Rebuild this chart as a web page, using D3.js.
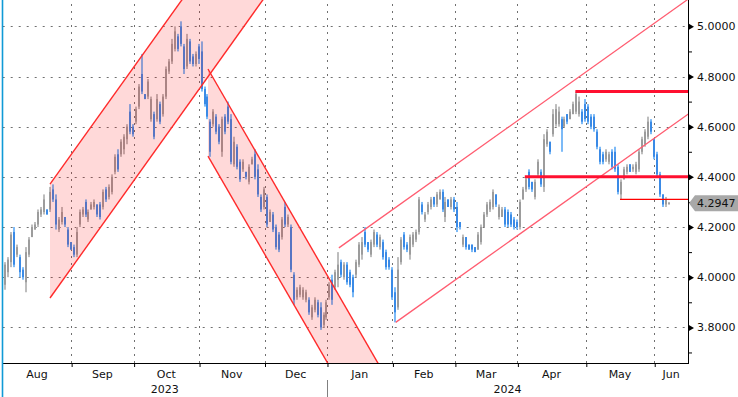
<!DOCTYPE html>
<html>
<head>
<meta charset="utf-8">
<script src="https://cdn.jsdelivr.net/npm/d3@7"></script>
<style>
  body { margin: 0; background: #fff; }
  svg { display: block; font-family: "DejaVu Sans", sans-serif; }
</style>
</head>
<body>
<svg width="738" height="397"></svg>
<script>
  'use strict';

  // daily bars, Aug 2023 - Jun 2024 (one row per month)
  const open = [
    3.97,4.02,4.06,4.18,4.09,4.08,4.03,3.98,4.09,4.16,4.19,4.21,4.25,4.26,4.27,4.27,4.35,4.31,4.19,4.22,4.24,4.19,4.14,
    4.12,4.09,4.21,4.25,4.30,4.23,4.27,4.28,4.29,4.29,4.28,4.35,4.32,4.34,4.42,4.49,4.49,4.51,4.55,4.66,4.60,
    4.62,4.68,4.81,4.73,4.72,4.63,4.65,4.63,4.69,4.65,4.72,4.82,4.86,4.91,4.96,5.00,4.92,4.84,4.94,4.88,4.85,4.92,
    4.90,4.75,4.72,4.62,4.61,4.64,4.60,4.50,4.64,4.68,4.63,4.45,4.52,4.46,4.43,4.42,4.38,4.45,4.49,4.43,4.32,4.28,
    4.32,4.22,4.25,4.20,4.17,4.16,4.28,4.21,4.20,4.01,3.92,3.93,3.92,3.91,3.91,3.84,3.87,3.90,3.88,3.81,3.84,
    3.92,3.99,3.96,3.99,4.06,4.00,4.05,4.02,4.00,4.01,4.05,4.09,4.18,4.14,4.09,4.13,4.17,4.12,4.14,4.10,4.07,4.03,
    3.94,3.88,4.06,4.17,4.13,4.09,4.13,4.15,4.18,4.29,4.23,4.26,4.28,4.32,4.29,4.31,4.34,4.24,4.31,4.28,4.31,
    4.28,4.22,4.13,4.16,4.13,4.13,4.12,4.11,4.14,4.20,4.25,4.27,4.28,4.33,4.24,4.24,4.27,4.26,4.25,4.23,4.22,
    4.20,4.31,4.35,4.42,4.38,4.32,4.41,4.42,4.36,4.53,4.54,4.57,4.61,4.61,4.63,4.60,4.65,4.63,4.65,4.66,4.65,4.66,4.69,
    4.68,4.64,4.64,4.58,4.51,4.49,4.47,4.46,4.50,4.50,4.44,4.33,4.39,4.42,4.45,4.43,4.42,4.43,4.50,4.53,4.56,4.62,4.55,
    4.49,4.41,4.33,4.29,4.292
  ];
  const high = [
    4.06,4.08,4.18,4.20,4.13,4.09,4.04,4.12,4.16,4.21,4.22,4.27,4.28,4.33,4.27,4.36,4.37,4.33,4.24,4.28,4.24,4.20,4.14,
    4.13,4.20,4.27,4.28,4.31,4.27,4.30,4.31,4.29,4.30,4.35,4.36,4.37,4.41,4.49,4.51,4.55,4.57,4.61,4.69,4.61,
    4.68,4.77,4.89,4.73,4.79,4.72,4.66,4.73,4.70,4.73,4.84,4.87,4.95,5.00,4.97,5.02,4.93,4.97,4.95,4.89,4.90,4.93,
    4.94,4.76,4.73,4.63,4.67,4.65,4.61,4.64,4.65,4.70,4.65,4.56,4.53,4.47,4.47,4.42,4.45,4.48,4.51,4.45,4.33,4.36,
    4.33,4.27,4.26,4.21,4.18,4.24,4.30,4.25,4.21,4.02,3.96,3.97,3.96,3.95,3.92,3.89,3.92,3.91,3.90,3.86,3.91,
    3.98,4.01,4.03,4.10,4.07,4.06,4.06,4.03,4.01,4.07,4.14,4.16,4.20,4.14,4.15,4.19,4.18,4.17,4.15,4.11,4.08,4.04,
    3.96,4.08,4.16,4.18,4.14,4.17,4.18,4.19,4.32,4.30,4.26,4.30,4.32,4.32,4.34,4.35,4.35,4.32,4.31,4.32,4.32,
    4.30,4.22,4.17,4.16,4.13,4.13,4.12,4.18,4.21,4.26,4.30,4.31,4.35,4.33,4.29,4.28,4.28,4.27,4.26,4.24,4.23,
    4.31,4.36,4.40,4.43,4.38,4.39,4.47,4.43,4.57,4.59,4.54,4.67,4.69,4.68,4.64,4.64,4.65,4.67,4.70,4.74,4.72,4.67,4.71,
    4.69,4.65,4.65,4.59,4.52,4.50,4.51,4.50,4.51,4.52,4.45,4.39,4.44,4.45,4.45,4.45,4.46,4.51,4.56,4.59,4.64,4.63,4.55,
    4.50,4.42,4.33,4.32,4.30
  ];
  const low = [
    3.95,4.00,4.04,4.04,4.08,4.00,3.99,3.94,4.08,4.16,4.19,4.20,4.24,4.25,4.25,4.26,4.30,4.19,4.18,4.21,4.20,4.12,4.11,
    4.08,4.08,4.20,4.24,4.24,4.22,4.27,4.27,4.24,4.23,4.27,4.30,4.31,4.33,4.41,4.42,4.48,4.49,4.53,4.57,4.56,
    4.61,4.67,4.73,4.71,4.71,4.62,4.55,4.62,4.61,4.64,4.71,4.81,4.85,4.90,4.90,4.92,4.81,4.83,4.85,4.84,4.84,4.85,
    4.74,4.68,4.63,4.48,4.60,4.57,4.53,4.48,4.57,4.61,4.45,4.44,4.43,4.38,4.42,4.39,4.37,4.45,4.39,4.32,4.26,4.27,
    4.20,4.22,4.18,4.11,4.10,4.15,4.20,4.20,4.02,3.89,3.91,3.92,3.91,3.90,3.85,3.83,3.86,3.84,3.79,3.80,3.83,
    3.91,3.89,3.95,3.96,4.00,3.99,3.97,3.96,3.92,4.00,4.04,4.07,4.12,4.10,4.08,4.12,4.12,4.11,4.07,4.03,4.03,3.91,
    3.82,3.87,4.05,4.11,4.10,4.07,4.12,4.14,4.17,4.25,4.22,4.25,4.27,4.28,4.28,4.31,4.26,4.22,4.28,4.27,4.26,
    4.18,4.19,4.12,4.11,4.11,4.10,4.10,4.11,4.13,4.20,4.24,4.26,4.27,4.28,4.23,4.24,4.20,4.20,4.20,4.19,4.19,
    4.19,4.31,4.34,4.35,4.34,4.31,4.40,4.36,4.34,4.52,4.49,4.56,4.60,4.60,4.50,4.60,4.61,4.63,4.65,4.65,4.64,4.61,4.62,
    4.61,4.59,4.58,4.51,4.45,4.45,4.46,4.45,4.43,4.42,4.33,4.31,4.39,4.41,4.42,4.42,4.41,4.42,4.49,4.52,4.55,4.57,4.47,
    4.40,4.32,4.28,4.28,4.29
  ];
  const close = [
    4.05,4.07,4.17,4.05,4.12,4.02,4.00,4.10,4.15,4.20,4.21,4.26,4.27,4.31,4.25,4.34,4.31,4.21,4.23,4.26,4.21,4.13,4.11,
    4.09,4.18,4.26,4.27,4.25,4.26,4.29,4.30,4.25,4.24,4.34,4.31,4.36,4.40,4.48,4.43,4.54,4.56,4.60,4.58,4.57,
    4.67,4.76,4.74,4.71,4.78,4.71,4.56,4.71,4.62,4.72,4.83,4.86,4.93,4.98,4.91,4.93,4.83,4.95,4.86,4.85,4.89,4.87,
    4.75,4.69,4.64,4.50,4.66,4.58,4.54,4.63,4.58,4.62,4.46,4.54,4.44,4.39,4.46,4.40,4.44,4.47,4.40,4.33,4.27,4.35,
    4.21,4.26,4.19,4.12,4.11,4.23,4.21,4.24,4.03,3.91,3.95,3.96,3.95,3.94,3.86,3.88,3.91,3.85,3.80,3.85,3.90,
    3.97,3.91,4.02,4.05,4.01,4.05,3.98,3.97,3.94,4.06,4.13,4.14,4.13,4.11,4.14,4.18,4.13,4.16,4.08,4.04,4.04,3.92,
    3.86,4.03,4.15,4.12,4.11,4.16,4.17,4.18,4.31,4.26,4.25,4.29,4.31,4.29,4.33,4.34,4.27,4.30,4.28,4.31,4.27,
    4.20,4.20,4.16,4.12,4.11,4.11,4.10,4.17,4.20,4.25,4.29,4.30,4.34,4.29,4.28,4.27,4.21,4.21,4.21,4.20,4.20,
    4.30,4.35,4.39,4.36,4.35,4.38,4.46,4.37,4.55,4.58,4.50,4.65,4.67,4.66,4.59,4.63,4.62,4.66,4.69,4.73,4.70,4.62,4.63,
    4.62,4.60,4.59,4.52,4.46,4.46,4.50,4.49,4.44,4.43,4.34,4.38,4.43,4.44,4.42,4.44,4.45,4.50,4.55,4.58,4.62,4.58,4.48,
    4.41,4.33,4.29,4.31,4.2947
  ];

  // first bar index of each month
  const months = ['Aug','Sep','Oct','Nov','Dec','Jan','Feb','Mar','Apr','May','Jun'];
  const monthStart = [0,23,44,66,88,109,131,152,173,196,219];
  const years = ['2023','2024'];
  const yearStart = [0,109];

  const yTicks = [3.8,4.0,4.2,4.4,4.6,4.8,5.0];
  const yMinor = [3.7,3.9,4.1,4.3,4.5,4.7,4.9];
  const lastValue = 4.2947;

  // drawn trend channels: [barIndex, price] end points
  const channelUp1 = [[15.4,4.371],[62,5.143]];
  const channelUp1Low = [[15.4,3.917],[90,5.156]];
  const channelDown = [[68.5,4.830],[128,3.609]];
  const channelDownLow = [[68.5,4.483],[111,3.611]];
  const channelUp2 = [[112.5,4.117],[232,5.126]];
  const channelUp2Low = [[131.6,3.820],[232,4.668]];

  // horizontal levels
  const levelValue = [4.74, 4.40];
  const levelFrom = [192, 175];
  const supportValue = 4.31;
  const supportFrom = 207;

  const svg = d3.select('svg');
  const left = 2.7, right = 688, bottom = 363, step = 2.975;

  const x = d3.scaleLinear().domain([-0.5, 223.5]).range([left, left + 224 * step]);
  const y = d3.scaleLinear().domain([3.658, 5.105]).range([bottom, 0]);

  svg.append('clipPath').attr('id', 'plot')
    .append('rect').attr('x', left).attr('y', 0)
      .attr('width', right - left).attr('height', bottom);

  // grid
  svg.append('g').selectAll('line').data(yTicks).enter().append('line')
      .attr('x1', left).attr('x2', right)
      .attr('y1', d => Math.round(y(d)) + 0.5).attr('y2', d => Math.round(y(d)) + 0.5)
      .attr('stroke', '#707070').attr('stroke-dasharray', '2,6');

  svg.append('g').selectAll('line').data(monthStart.slice(1)).enter().append('line')
      .attr('x1', d => Math.round(x(d - 0.5)) + 0.5).attr('x2', d => Math.round(x(d - 0.5)) + 0.5)
      .attr('y1', 4).attr('y2', bottom)
      .attr('stroke', '#707070').attr('stroke-dasharray', '2,5');

  // bars: light range line, darker open-close body
  const idx = d3.range(close.length);
  const up = i => close[i] >= open[i];
  const bars = svg.append('g');
  bars.selectAll('rect.wick').data(idx).enter().append('rect')
      .attr('class', 'wick')
      .attr('x', i => Math.round(x(i)))
      .attr('width', 2)
      .attr('y', i => y(high[i]))
      .attr('height', i => Math.max(1, y(low[i]) - y(high[i])))
      .attr('fill', i => up(i) ? '#bdbdbd' : '#7cbaf7');
  bars.selectAll('rect.body').data(idx).enter().append('rect')
      .attr('class', 'body')
      .attr('x', i => Math.round(x(i)))
      .attr('width', 2)
      .attr('y', i => y(Math.max(open[i], close[i])))
      .attr('height', i => Math.max(1, Math.abs(y(open[i]) - y(close[i]))))
      .attr('fill', i => up(i) ? '#9c9c9c' : '#3a8ae6');

  // channels
  const pt = d => [x(d[0]), y(d[1])];
  const drawings = svg.append('g').attr('clip-path', 'url(#plot)');

  const fillChannel = (a, b) => {
    drawings.append('path')
      .attr('d', d3.line()([pt(a[0]), pt(a[1]), pt(b[1]), pt(b[0])]))
      .attr('fill', 'rgba(255,0,0,0.15)');
  };
  fillChannel(channelUp1, channelUp1Low);
  fillChannel(channelDown, channelDownLow);

  [channelUp1, channelUp1Low, channelDown, channelDownLow].forEach(c => {
    drawings.append('path').attr('d', d3.line()(c.map(pt)))
      .attr('stroke', '#ff2a2a').attr('stroke-width', 1.4).attr('fill', 'none');
  });
  [channelUp2, channelUp2Low].forEach(c => {
    drawings.append('path').attr('d', d3.line()(c.map(pt)))
      .attr('stroke', '#ff5c70').attr('stroke-width', 1.3).attr('fill', 'none');
  });

  levelValue.forEach((v, k) => {
    drawings.append('line')
      .attr('x1', x(levelFrom[k])).attr('x2', right)
      .attr('y1', y(v)).attr('y2', y(v))
      .attr('stroke', '#ff1030').attr('stroke-width', 3);
  });
  drawings.append('line')
      .attr('x1', x(supportFrom)).attr('x2', right)
      .attr('y1', y(supportValue)).attr('y2', y(supportValue))
      .attr('stroke', '#ff0000').attr('stroke-width', 1.3);

  // right axis
  const yAxis = svg.append('g').attr('transform', `translate(${right},0)`)
      .call(d3.axisRight(y).tickValues(yTicks).tickSize(0).tickPadding(9)
        .tickFormat(d3.format('.4f')));
  yAxis.select('.domain').remove();
  yAxis.selectAll('.tick text').attr('font-size', 11).attr('fill', '#111')
      .attr('font-family', '"DejaVu Sans", sans-serif');
  yAxis.selectAll('.tick').append('path')
      .attr('d', 'M0,-3.5L6,0L0,3.5Z').attr('fill', '#000');

  const yMinorAxis = svg.append('g').attr('transform', `translate(${right},0)`)
      .call(d3.axisRight(y).tickValues(yMinor).tickSize(4).tickFormat(''));
  yMinorAxis.select('.domain').remove();

  svg.append('line').attr('x1', right + 0.5).attr('x2', right + 0.5)
      .attr('y1', 0).attr('y2', bottom + 1).attr('stroke', '#000');

  // bottom axis
  const xAxis = svg.append('g').attr('transform', `translate(0,${bottom})`)
      .call(d3.axisBottom(x).tickValues(monthStart.slice(1).map(d => d - 0.5))
        .tickSize(4).tickFormat(''));
  xAxis.select('.domain').remove();
  xAxis.selectAll('.tick line').attr('transform', 'translate(0.5,0)');

  svg.append('line').attr('x1', left).attr('x2', right + 1)
      .attr('y1', bottom + 0.5).attr('y2', bottom + 0.5).attr('stroke', '#000');

  const monthEnd = i => i + 1 < monthStart.length ? x(monthStart[i + 1] - 0.5) : right;
  svg.append('g').selectAll('text').data(months).enter().append('text')
      .attr('x', (d, i) => Math.min((x(monthStart[i] - 0.5) + monthEnd(i)) / 2, right - 11))
      .attr('y', 378)
      .attr('text-anchor', 'middle').attr('font-size', 11).attr('fill', '#111')
      .text(d => d);

  svg.append('g').selectAll('text').data(years).enter().append('text')
      .attr('x', (d, i) => (x(yearStart[i] - 0.5) + (i + 1 < yearStart.length ? x(yearStart[i + 1] - 0.5) : right)) / 2)
      .attr('y', 393)
      .attr('text-anchor', 'middle').attr('font-size', 11).attr('fill', '#111')
      .text(d => d);

  svg.append('line')
      .attr('x1', Math.round(x(yearStart[1] - 0.5)) + 0.5).attr('x2', Math.round(x(yearStart[1] - 0.5)) + 0.5)
      .attr('y1', 380).attr('y2', 397).attr('stroke', '#808080');

  // left marker line
  svg.append('line').attr('x1', 2.5).attr('x2', 2.5).attr('y1', 0).attr('y2', 397)
      .attr('stroke', '#109ad6').attr('stroke-width', 1.6);

  // last value tag
  const ly = y(lastValue);
  svg.append('path')
      .attr('d', `M${right + 1},${ly}L${right + 7},${ly - 8}L738,${ly - 8}L738,${ly + 8}L${right + 7},${ly + 8}Z`)
      .attr('fill', '#a8a8a8');
  svg.append('text').attr('x', right + 9).attr('y', ly).attr('dy', '0.35em')
      .attr('font-size', 11).attr('fill', '#111').text(d3.format('.4f')(lastValue));
</script>
</body>
</html>
